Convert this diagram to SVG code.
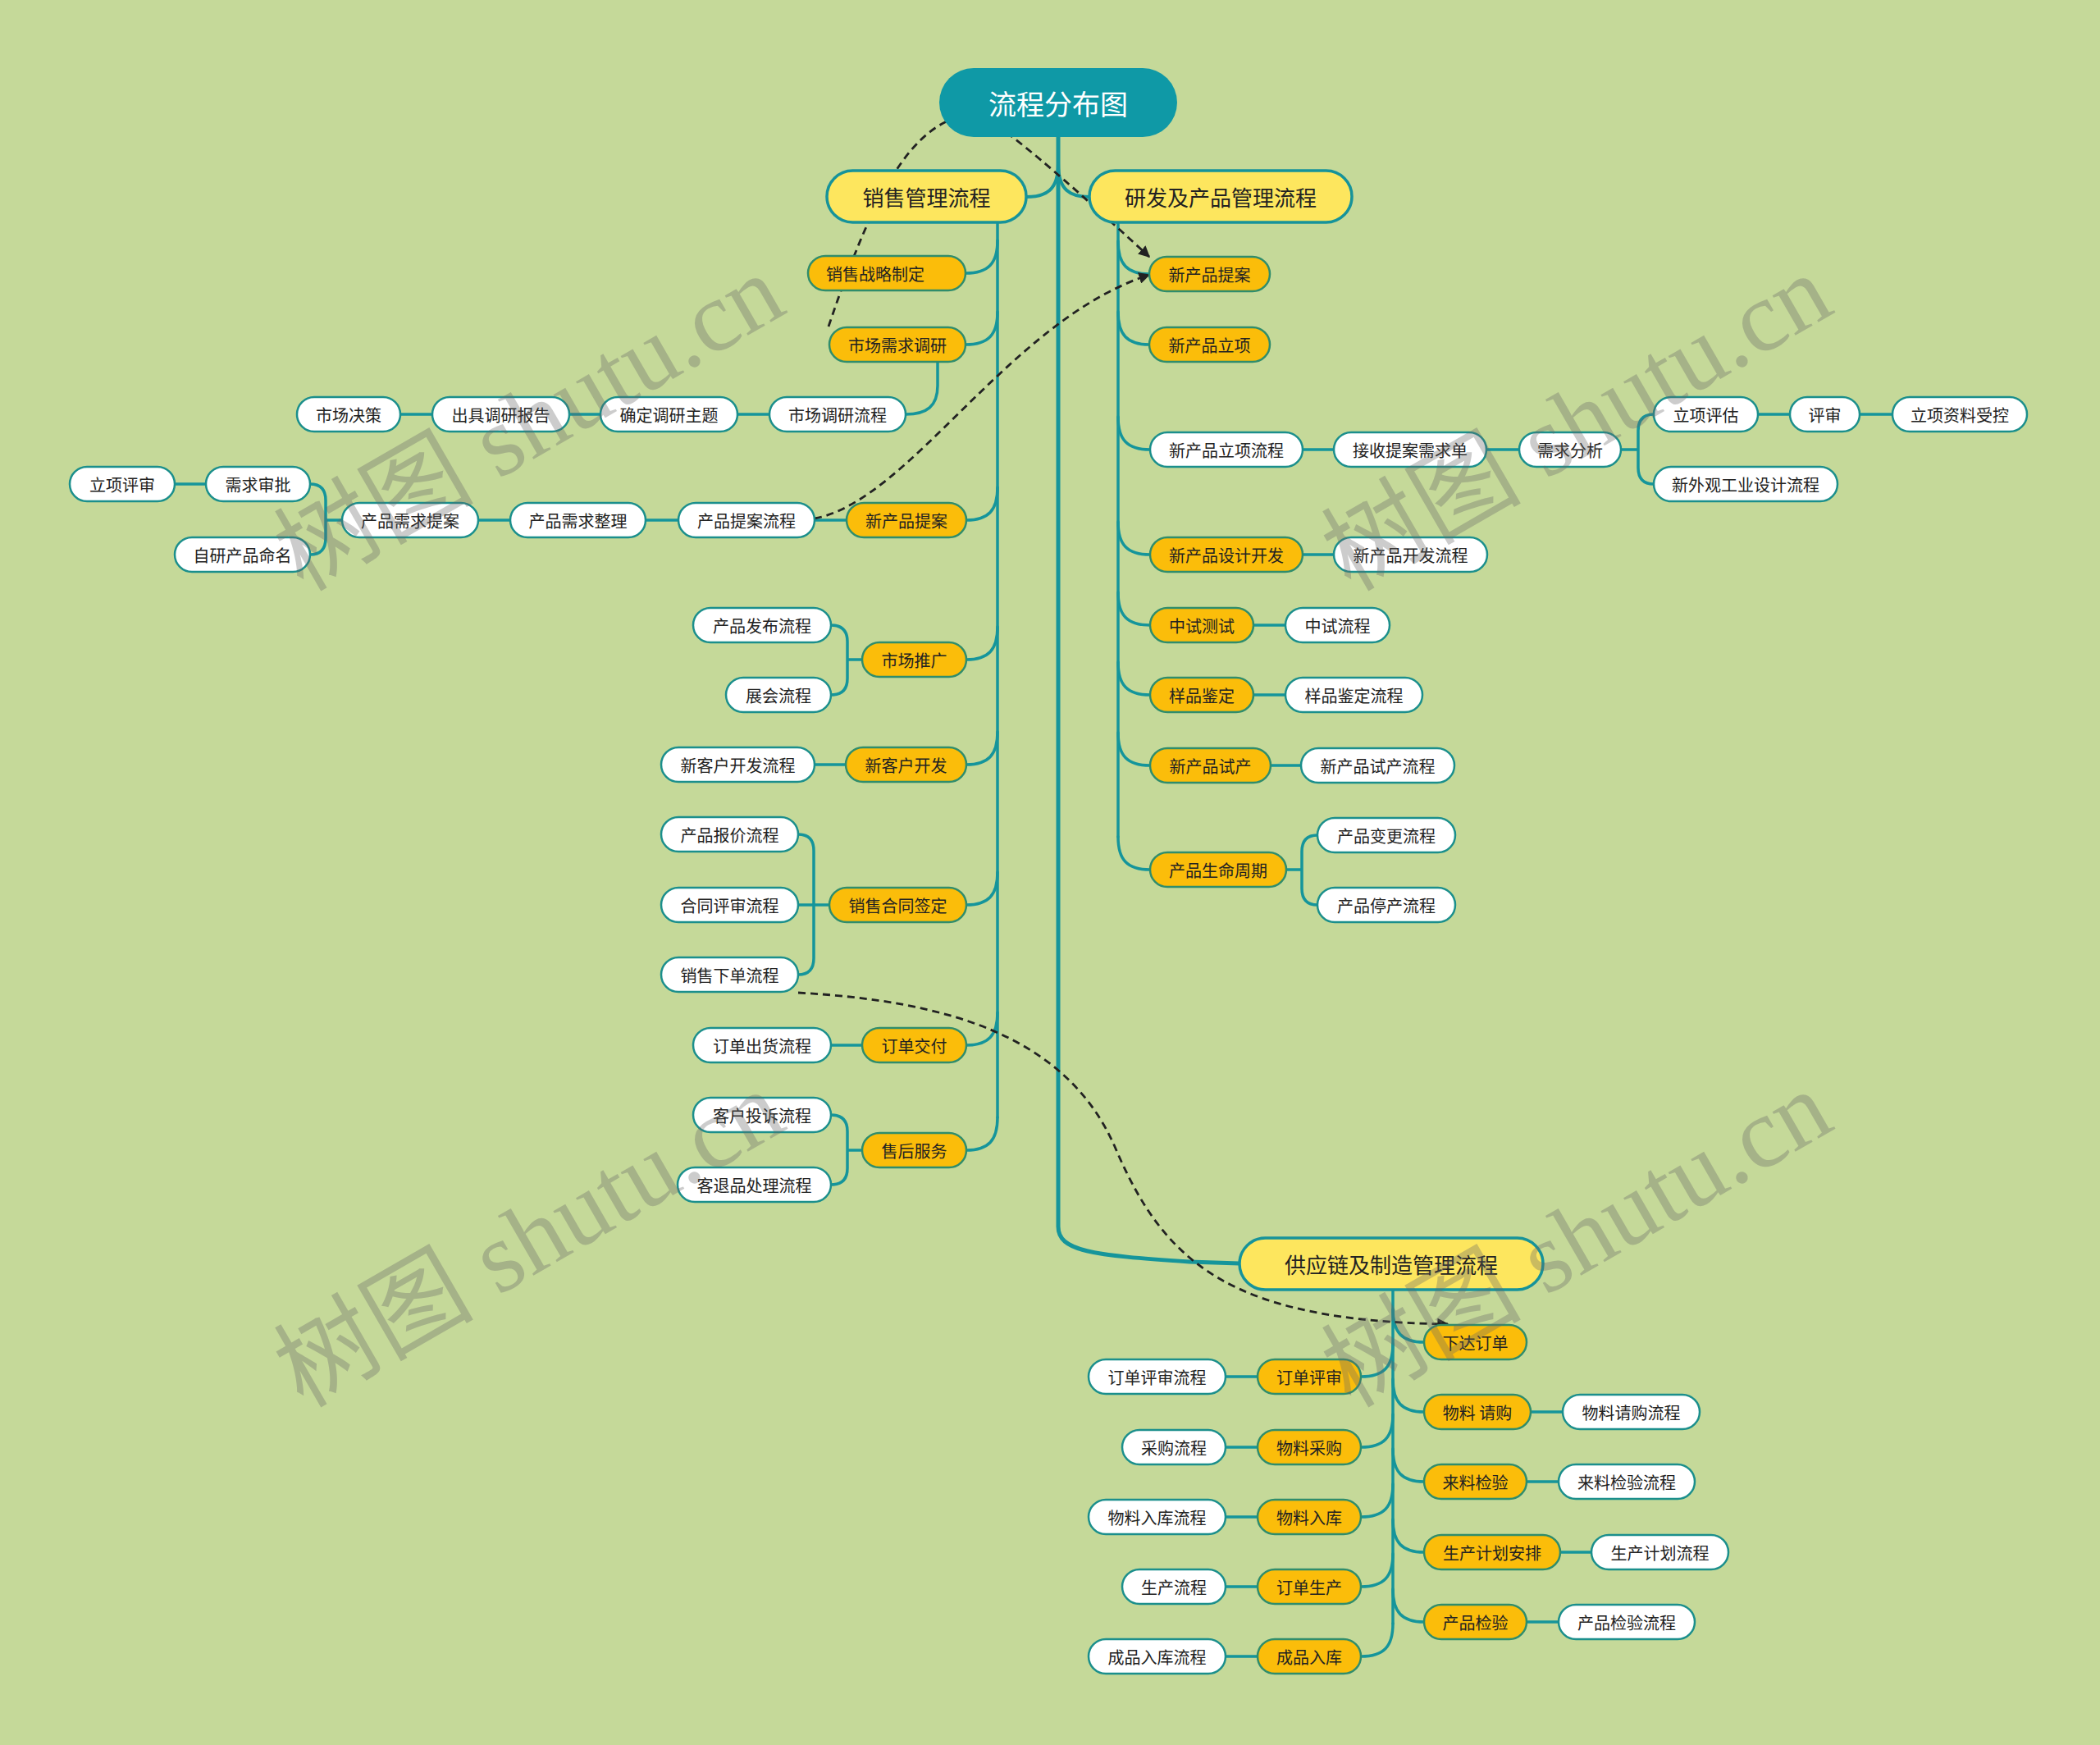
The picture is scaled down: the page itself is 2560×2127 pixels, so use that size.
<svg xmlns="http://www.w3.org/2000/svg" width="2560" height="2127" viewBox="0 0 2560 2127">
<defs>
<style>
.bg{fill:#c5d999}
.ln{fill:none;stroke:#15959b;stroke-width:3.5;stroke-linecap:round}
.main{fill:none;stroke:#15959b;stroke-width:5;stroke-linecap:round}
.l1c{fill:none;stroke:#15959b;stroke-width:4;stroke-linecap:round}
.dash{fill:none;stroke:#222;stroke-width:2.8;stroke-dasharray:9 6}
.root rect{fill:#0f99a6}
.root text{fill:#fff;font-size:34px}
.l1 rect{fill:#fde65e;stroke:#16939a;stroke-width:3.5}
.l1 text{fill:#222;font-size:26px}
.l2 rect{fill:#fbbd0a;stroke:#2f8d6c;stroke-width:2.5}
.l3 rect{fill:#fff;stroke:#1b8f8c;stroke-width:2.5}
.l2 text,.l3 text{fill:#222;font-size:20px}
text{font-family:"Noto Sans CJK SC","Noto Sans",sans-serif;text-anchor:middle;dominant-baseline:central}
.wm{font-family:"Liberation Serif","Noto Sans CJK SC",serif;font-size:122px;fill:#666;opacity:0.33}
</style>
<marker id="arr" viewBox="0 0 10 10" refX="9" refY="5" markerWidth="5" markerHeight="5" orient="auto" markerUnits="strokeWidth">
<path d="M0,0 L10,5 L0,10 z" fill="#222"/>
</marker>
</defs>
<rect class="bg" x="0" y="0" width="2560" height="2127"/>

<g id="connectors">
<path class="main" d="M1290,167 V1495 C1290,1525 1330,1530 1450,1538 L1511,1540"/>
<path class="l1c" d="M1290,200 C1290,232 1275,240 1251,240"/>
<path class="l1c" d="M1290,200 C1290,232 1305,240 1328,240"/>
<!-- sales trunk -->
<path class="ln" d="M1216,271 V1362"/>
<path class="ln" d="M1216,293 C1216,321 1205,333 1177,333"/>
<path class="ln" d="M1216,380 C1216,408 1205,420 1177,420"/>
<path class="ln" d="M1216,594 C1216,622 1205,634 1178,634"/>
<path class="ln" d="M1216,764 C1216,792 1205,804 1178,804"/>
<path class="ln" d="M1216,892 C1216,920 1205,932 1178,932"/>
<path class="ln" d="M1216,1063 C1216,1091 1205,1103 1178,1103"/>
<path class="ln" d="M1216,1234 C1216,1262 1205,1274 1178,1274"/>
<path class="ln" d="M1216,1362 C1216,1390 1205,1402 1178,1402"/>
<path class="ln" d="M1143,441 V470 C1143,495 1130,505 1104,505"/>
<path class="ln" d="M899,505 H938 M694,505 H732 M488,505 H527"/>
<path class="ln" d="M993,634 H1032 M787,634 H827 M583,634 H622"/>
<path class="ln" d="M417,634 H397 M397,634 V610 Q397,590 378,590 M397,634 V656 Q397,676 378,676"/>
<path class="ln" d="M251,590 H213"/>
<path class="ln" d="M1051,804 H1033 M1033,804 V782 Q1033,762 1013,762 M1033,804 V827 Q1033,847 1013,847"/>
<path class="ln" d="M1031,932 H993"/>
<path class="ln" d="M1011,1103 H973 M992,1103 V1037 Q992,1017 973,1017 M992,1103 V1168 Q992,1188 973,1188"/>
<path class="ln" d="M1051,1274 H1013"/>
<path class="ln" d="M1051,1402 H1033 M1033,1402 V1379 Q1033,1359 1013,1359 M1033,1402 V1424 Q1033,1444 1013,1444"/>
<!-- R&D trunk -->
<path class="ln" d="M1363,271 V1020"/>
<path class="ln" d="M1363,294 C1363,322 1374,334 1401,334"/>
<path class="ln" d="M1363,380 C1363,408 1374,420 1401,420"/>
<path class="ln" d="M1363,508 C1363,536 1374,548 1402,548"/>
<path class="ln" d="M1363,636 C1363,664 1374,676 1402,676"/>
<path class="ln" d="M1363,722 C1363,750 1374,762 1402,762"/>
<path class="ln" d="M1363,807 C1363,835 1374,847 1402,847"/>
<path class="ln" d="M1363,893 C1363,921 1374,933 1402,933"/>
<path class="ln" d="M1363,1020 C1363,1048 1374,1060 1402,1060"/>
<path class="ln" d="M1588,548 H1626 M1812,548 H1852"/>
<path class="ln" d="M1976,548 H1997 M1997,548 V525 Q1997,505 2016,505 M1997,548 V570 Q1997,590 2016,590"/>
<path class="ln" d="M2143,505 H2182 M2267,505 H2307"/>
<path class="ln" d="M1588,676 H1626 M1528,762 H1567 M1528,847 H1567 M1549,933 H1586"/>
<path class="ln" d="M1568,1060 H1587 M1587,1060 V1038 Q1587,1018 1606,1018 M1587,1060 V1083 Q1587,1103 1606,1103"/>
<!-- supply trunk -->
<path class="ln" d="M1698,1572 V1979"/>
<path class="ln" d="M1698,1596 C1698,1624 1709,1636 1736,1636"/>
<path class="ln" d="M1698,1681 C1698,1709 1709,1721 1736,1721"/>
<path class="ln" d="M1698,1766 C1698,1794 1709,1806 1736,1806"/>
<path class="ln" d="M1698,1852 C1698,1880 1709,1892 1736,1892"/>
<path class="ln" d="M1698,1937 C1698,1965 1709,1977 1736,1977"/>
<path class="ln" d="M1698,1638 C1698,1666 1687,1678 1659,1678"/>
<path class="ln" d="M1698,1724 C1698,1752 1687,1764 1659,1764"/>
<path class="ln" d="M1698,1809 C1698,1837 1687,1849 1659,1849"/>
<path class="ln" d="M1698,1894 C1698,1922 1687,1934 1659,1934"/>
<path class="ln" d="M1698,1979 C1698,2007 1687,2019 1659,2019"/>
<path class="ln" d="M1866,1721 H1905 M1861,1806 H1900 M1902,1892 H1940 M1861,1977 H1900"/>
<path class="ln" d="M1533,1678 H1494 M1533,1764 H1494 M1533,1849 H1494 M1533,1934 H1494 M1533,2019 H1494"/>
</g>

<g id="relations">
<path class="dash" d="M1010,398 C1060,250 1110,140 1190,140 C1215,145 1300,220 1401,313" marker-end="url(#arr)"/>
<path class="dash" d="M993,632 C1110,610 1230,390 1401,335" marker-end="url(#arr)"/>
<path class="dash" d="M973,1210 C1150,1220 1300,1260 1360,1400 C1420,1540 1500,1610 1765,1614" marker-end="url(#arr)"/>
</g>

<g id="n-root" class="root"><rect x="1145" y="83" width="290" height="84" rx="42"/><text x="1290" y="125">流程分布图</text></g>

<g id="n-sales" class="l1"><rect x="1008" y="208" width="243" height="63" rx="31.5"/><text x="1129.5" y="239.5">销售管理流程</text></g>
<g id="n-rd" class="l1"><rect x="1328" y="208" width="320" height="63" rx="31.5"/><text x="1488" y="239.5">研发及产品管理流程</text></g>
<g id="n-sc" class="l1"><rect x="1511" y="1509" width="370" height="63" rx="31.5"/><text x="1696" y="1540.5">供应链及制造管理流程</text></g>

<g id="n-s1" class="l2"><rect x="985" y="312" width="192" height="42" rx="21"/><text x="1067" y="333">销售战略制定</text></g>
<g id="n-s2" class="l2"><rect x="1011" y="399" width="166" height="42" rx="21"/><text x="1094" y="420">市场需求调研</text></g>
<g id="n-s3" class="l2"><rect x="1032" y="613" width="146" height="42" rx="21"/><text x="1105" y="634">新产品提案</text></g>
<g id="n-s4" class="l2"><rect x="1051" y="783" width="127" height="42" rx="21"/><text x="1114.5" y="804">市场推广</text></g>
<g id="n-s5" class="l2"><rect x="1031" y="911" width="147" height="42" rx="21"/><text x="1104.5" y="932">新客户开发</text></g>
<g id="n-s6" class="l2"><rect x="1011" y="1082" width="167" height="42" rx="21"/><text x="1094.5" y="1103">销售合同签定</text></g>
<g id="n-s7" class="l2"><rect x="1051" y="1253" width="127" height="42" rx="21"/><text x="1114.5" y="1274">订单交付</text></g>
<g id="n-s8" class="l2"><rect x="1051" y="1381" width="127" height="42" rx="21"/><text x="1114.5" y="1402">售后服务</text></g>

<g id="n-s2a" class="l3"><rect x="938" y="484" width="166" height="42" rx="21"/><text x="1021" y="505">市场调研流程</text></g>
<g id="n-s2b" class="l3"><rect x="732" y="484" width="167" height="42" rx="21"/><text x="815.5" y="505">确定调研主题</text></g>
<g id="n-s2c" class="l3"><rect x="527" y="484" width="167" height="42" rx="21"/><text x="610.5" y="505">出具调研报告</text></g>
<g id="n-s2d" class="l3"><rect x="362" y="484" width="126" height="42" rx="21"/><text x="425" y="505">市场决策</text></g>
<g id="n-s3a" class="l3"><rect x="827" y="613" width="166" height="42" rx="21"/><text x="910" y="634">产品提案流程</text></g>
<g id="n-s3b" class="l3"><rect x="622" y="613" width="165" height="42" rx="21"/><text x="704.5" y="634">产品需求整理</text></g>
<g id="n-s3c" class="l3"><rect x="417" y="613" width="166" height="42" rx="21"/><text x="500" y="634">产品需求提案</text></g>
<g id="n-s3d" class="l3"><rect x="251" y="569" width="127" height="42" rx="21"/><text x="314.5" y="590">需求审批</text></g>
<g id="n-s3e" class="l3"><rect x="85" y="569" width="128" height="42" rx="21"/><text x="149" y="590">立项评审</text></g>
<g id="n-s3f" class="l3"><rect x="213" y="655" width="165" height="42" rx="21"/><text x="295.5" y="676">自研产品命名</text></g>
<g id="n-s4a" class="l3"><rect x="845" y="741" width="168" height="42" rx="21"/><text x="929" y="762">产品发布流程</text></g>
<g id="n-s4b" class="l3"><rect x="885" y="826" width="128" height="42" rx="21"/><text x="949" y="847">展会流程</text></g>
<g id="n-s5a" class="l3"><rect x="806" y="911" width="187" height="42" rx="21"/><text x="899.5" y="932">新客户开发流程</text></g>
<g id="n-s6a" class="l3"><rect x="806" y="996" width="167" height="42" rx="21"/><text x="889.5" y="1017">产品报价流程</text></g>
<g id="n-s6b" class="l3"><rect x="806" y="1082" width="167" height="42" rx="21"/><text x="889.5" y="1103">合同评审流程</text></g>
<g id="n-s6c" class="l3"><rect x="806" y="1167" width="167" height="42" rx="21"/><text x="889.5" y="1188">销售下单流程</text></g>
<g id="n-s7a" class="l3"><rect x="845" y="1253" width="168" height="42" rx="21"/><text x="929" y="1274">订单出货流程</text></g>
<g id="n-s8a" class="l3"><rect x="845" y="1338" width="168" height="42" rx="21"/><text x="929" y="1359">客户投诉流程</text></g>
<g id="n-s8b" class="l3"><rect x="826" y="1423" width="187" height="42" rx="21"/><text x="919.5" y="1444">客退品处理流程</text></g>

<g id="n-r1" class="l2"><rect x="1401" y="313" width="147" height="42" rx="21"/><text x="1474.5" y="334">新产品提案</text></g>
<g id="n-r2" class="l2"><rect x="1401" y="399" width="147" height="42" rx="21"/><text x="1474.5" y="420">新产品立项</text></g>
<g id="n-r3" class="l3"><rect x="1402" y="527" width="186" height="42" rx="21"/><text x="1495" y="548">新产品立项流程</text></g>
<g id="n-r4" class="l2"><rect x="1402" y="655" width="186" height="42" rx="21"/><text x="1495" y="676">新产品设计开发</text></g>
<g id="n-r5" class="l2"><rect x="1402" y="741" width="126" height="42" rx="21"/><text x="1465" y="762">中试测试</text></g>
<g id="n-r6" class="l2"><rect x="1402" y="826" width="126" height="42" rx="21"/><text x="1465" y="847">样品鉴定</text></g>
<g id="n-r7" class="l2"><rect x="1402" y="912" width="147" height="42" rx="21"/><text x="1475.5" y="933">新产品试产</text></g>
<g id="n-r8" class="l2"><rect x="1402" y="1039" width="166" height="42" rx="21"/><text x="1485" y="1060">产品生命周期</text></g>

<g id="n-r3a" class="l3"><rect x="1626" y="527" width="186" height="42" rx="21"/><text x="1719" y="548">接收提案需求单</text></g>
<g id="n-r3b" class="l3"><rect x="1852" y="527" width="124" height="42" rx="21"/><text x="1914" y="548">需求分析</text></g>
<g id="n-r3c" class="l3"><rect x="2016" y="484" width="127" height="42" rx="21"/><text x="2079.5" y="505">立项评估</text></g>
<g id="n-r3d" class="l3"><rect x="2182" y="484" width="85" height="42" rx="21"/><text x="2224.5" y="505">评审</text></g>
<g id="n-r3e" class="l3"><rect x="2307" y="484" width="164" height="42" rx="21"/><text x="2389" y="505">立项资料受控</text></g>
<g id="n-r3f" class="l3"><rect x="2016" y="569" width="224" height="42" rx="21"/><text x="2128" y="590">新外观工业设计流程</text></g>
<g id="n-r4a" class="l3"><rect x="1626" y="655" width="187" height="42" rx="21"/><text x="1719.5" y="676">新产品开发流程</text></g>
<g id="n-r5a" class="l3"><rect x="1567" y="741" width="127" height="42" rx="21"/><text x="1630.5" y="762">中试流程</text></g>
<g id="n-r6a" class="l3"><rect x="1567" y="826" width="167" height="42" rx="21"/><text x="1650.5" y="847">样品鉴定流程</text></g>
<g id="n-r7a" class="l3"><rect x="1586" y="912" width="187" height="42" rx="21"/><text x="1679.5" y="933">新产品试产流程</text></g>
<g id="n-r8a" class="l3"><rect x="1606" y="997" width="168" height="42" rx="21"/><text x="1690" y="1018">产品变更流程</text></g>
<g id="n-r8b" class="l3"><rect x="1606" y="1082" width="168" height="42" rx="21"/><text x="1690" y="1103">产品停产流程</text></g>

<g id="n-c1" class="l2"><rect x="1736" y="1615" width="125" height="42" rx="21"/><text x="1798.5" y="1636">下达订单</text></g>
<g id="n-c2" class="l2"><rect x="1736" y="1700" width="130" height="42" rx="21"/><text x="1801" y="1721">物料 请购</text></g>
<g id="n-c3" class="l2"><rect x="1736" y="1785" width="125" height="42" rx="21"/><text x="1798.5" y="1806">来料检验</text></g>
<g id="n-c4" class="l2"><rect x="1736" y="1871" width="166" height="42" rx="21"/><text x="1819" y="1892">生产计划安排</text></g>
<g id="n-c5" class="l2"><rect x="1736" y="1956" width="125" height="42" rx="21"/><text x="1798.5" y="1977">产品检验</text></g>
<g id="n-c6" class="l2"><rect x="1533" y="1657" width="126" height="42" rx="21"/><text x="1596" y="1678">订单评审</text></g>
<g id="n-c7" class="l2"><rect x="1533" y="1743" width="126" height="42" rx="21"/><text x="1596" y="1764">物料采购</text></g>
<g id="n-c8" class="l2"><rect x="1533" y="1828" width="126" height="42" rx="21"/><text x="1596" y="1849">物料入库</text></g>
<g id="n-c9" class="l2"><rect x="1533" y="1913" width="126" height="42" rx="21"/><text x="1596" y="1934">订单生产</text></g>
<g id="n-c10" class="l2"><rect x="1533" y="1998" width="126" height="42" rx="21"/><text x="1596" y="2019">成品入库</text></g>

<g id="n-c2a" class="l3"><rect x="1905" y="1700" width="167" height="42" rx="21"/><text x="1988.5" y="1721">物料请购流程</text></g>
<g id="n-c3a" class="l3"><rect x="1900" y="1785" width="166" height="42" rx="21"/><text x="1983" y="1806">来料检验流程</text></g>
<g id="n-c4a" class="l3"><rect x="1940" y="1871" width="167" height="42" rx="21"/><text x="2023.5" y="1892">生产计划流程</text></g>
<g id="n-c5a" class="l3"><rect x="1900" y="1956" width="166" height="42" rx="21"/><text x="1983" y="1977">产品检验流程</text></g>
<g id="n-c6a" class="l3"><rect x="1327" y="1657" width="167" height="42" rx="21"/><text x="1410.5" y="1678">订单评审流程</text></g>
<g id="n-c7a" class="l3"><rect x="1368" y="1743" width="126" height="42" rx="21"/><text x="1431" y="1764">采购流程</text></g>
<g id="n-c8a" class="l3"><rect x="1327" y="1828" width="167" height="42" rx="21"/><text x="1410.5" y="1849">物料入库流程</text></g>
<g id="n-c9a" class="l3"><rect x="1368" y="1913" width="126" height="42" rx="21"/><text x="1431" y="1934">生产流程</text></g>
<g id="n-c10a" class="l3"><rect x="1327" y="1998" width="167" height="42" rx="21"/><text x="1410.5" y="2019">成品入库流程</text></g>

<g id="watermarks">
<text class="wm" transform="translate(645,515) rotate(-30)">树图 shutu.cn</text>
<text class="wm" transform="translate(1922,515) rotate(-30)">树图 shutu.cn</text>
<text class="wm" transform="translate(645,1510) rotate(-30)">树图 shutu.cn</text>
<text class="wm" transform="translate(1922,1510) rotate(-30)">树图 shutu.cn</text>
</g>
</svg>
